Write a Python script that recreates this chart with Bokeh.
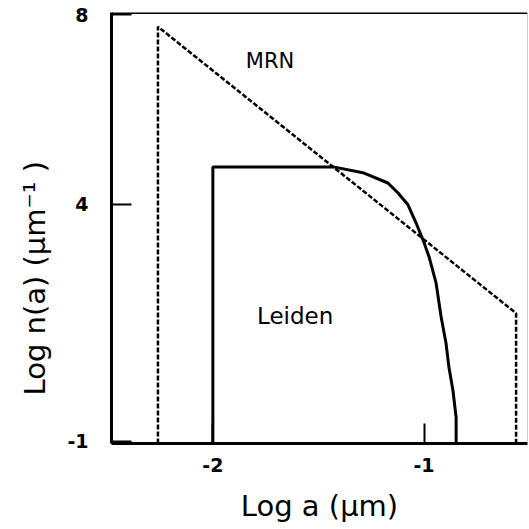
from bokeh.plotting import figure
from bokeh.models import Range1d, FixedTicker, LinearAxis, Span, Label, Title
from bokeh.embed import file_html
from bokeh.resources import INLINE

# MRN distribution (dashed)
mrn_log_a = [-2.26, -2.26, -0.564, -0.564]
mrn_log_n = [-1.05, 7.75, 1.70, -1.05]

# Leiden distribution (solid)
leiden_log_a = [-2.0, -2.0, -1.43, -1.284, -1.171, -1.123, -1.076, -1.038, -1.005,
                -0.976, -0.943, -0.919, -0.896, -0.882, -0.863, -0.848, -0.848]
leiden_log_n = [-1.05, 4.79, 4.79, 4.66, 4.45, 4.24, 3.99, 3.61, 3.25,
                2.89, 2.34, 1.62, 1.07, 0.56, 0.07, -0.50, -1.05]

x_ticks = [-2, -1]
x_tick_labels = ["-2", "-1"]
y_ticks = [-1, 4, 8]
y_tick_labels = ["-1", "4", "8"]

FONT = "DejaVu Sans"

p = figure(width=529, height=529, output_backend="svg", toolbar_location=None,
           x_range=Range1d(-2.48, -0.51), y_range=Range1d(-1.05, 8.05),
           min_border_left=111, min_border_right=2, min_border_top=12,
           min_border_bottom=86, x_axis_location=None, y_axis_location=None)
p.grid.visible = False
p.outline_line_color = None
p.background_fill_color = "white"
p.border_fill_color = "white"

xa = LinearAxis(ticker=FixedTicker(ticks=x_ticks), axis_label="Log a (µm)",
                major_label_overrides=dict(zip(x_ticks, x_tick_labels)))
ya = LinearAxis(ticker=FixedTicker(ticks=y_ticks), axis_label=None,
                major_label_overrides=dict(zip(y_ticks, y_tick_labels)))
for ax in (xa, ya):
    ax.axis_line_width = 3
    ax.axis_line_color = "black"
    ax.major_tick_in = 20
    ax.major_tick_out = 0
    ax.major_tick_line_width = 2
    ax.minor_tick_line_color = None
    ax.major_label_text_font = FONT
    ax.major_label_text_font_size = "19px"
    ax.major_label_text_font_style = "bold"
    ax.major_label_text_color = "black"
    ax.axis_label_text_font = FONT
    ax.axis_label_text_font_size = "29px"
    ax.axis_label_text_font_style = "normal"
    ax.axis_label_text_color = "black"
xa.major_label_standoff = 14
xa.axis_label_standoff = 14
ya.major_label_standoff = 23
ya.major_label_orientation = "horizontal"
p.add_layout(xa, "below")
p.add_layout(ya, "left")

# y-axis title, starting higher above the frame bottom like in the reference
p.add_layout(Title(text="Log n(a) (µm⁻¹ )", align="left", offset=48, standoff=26,
                   text_font=FONT, text_font_size="29px", text_font_style="normal",
                   text_color="black"), "left")

top_span = Span(location=8.05, dimension="width", line_color="black", line_width=3)
right_span = Span(location=-0.51, dimension="height", line_color="#999999", line_width=1)
p.add_layout(top_span)
p.add_layout(right_span)

p.line(mrn_log_a, mrn_log_n, line_color="black", line_width=2.5, line_dash="5 2")
p.line(leiden_log_a, leiden_log_n, line_color="black", line_width=3)

p.add_layout(Label(x=-1.844, y=7.03, text="MRN", text_font=FONT, text_font_size="21px",
                   text_baseline="middle", text_align="left", text_color="black"))
p.add_layout(Label(x=-1.791, y=1.64, text="Leiden", text_font=FONT, text_font_size="23px",
                   text_baseline="middle", text_align="left", text_color="black"))

open("out.html", "w").write(file_html(p, INLINE))
